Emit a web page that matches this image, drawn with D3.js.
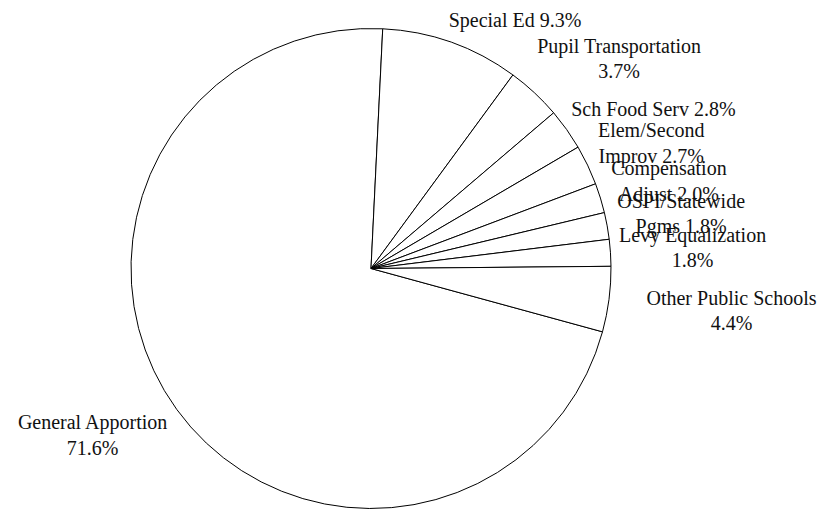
<!DOCTYPE html>
<html>
<head>
<meta charset="utf-8">
<script src="https://cdn.jsdelivr.net/npm/d3@7/dist/d3.min.js"></script>
<style>
  html, body { margin: 0; padding: 0; background: #fff; }
  svg { display: block; }
</style>
</head>
<body>
<svg id="chart" width="834" height="509"></svg>
<script>
// ---- data ----
const categories = ["General Apportion", "Special Ed", "Pupil Transportation", "Sch Food Serv",
  "Elem/Second Improv", "Compensation Adjust", "OSPI/Statewide Pgms", "Levy Equalization", "Other Public Schools"];
const percents = [71.6, 9.3, 3.7, 2.8, 2.7, 2.0, 1.8, 1.8, 4.4];
// word index at which the label wraps to a second line (0 = single line)
const labelBreakAt = [2, 0, 2, 0, 1, 1, 1, 2, 3];
// label placement tweaks (degrees of rotation, extra radial gap in px)
const labelAngleShift = [5.0, 10.6, 6.9, 6.0, 1.4, 0.7, 0.2, 0.1, -0.7];
const labelExtraGap = [0, 0, 0, 0, 0, 0, 0, 0, 28];

// ---- layout ----
const W = 834, H = 509;
const cx = 371, cy = 268.5, R = 240;
const startDeg = 105.3;
const labelGap = 248;
const fontSize = 20, lineH = 25.5, firstBase = 19.5;

const svg = d3.select("#chart");
const g = svg.append("g").attr("transform", `translate(${cx},${cy})`);

const data = categories.map((c, i) => ({ name: c, v: percents[i], i }));
const toRad = d => d * Math.PI / 180;
const pie = d3.pie().sort(null).value(d => d.v)
  .startAngle(toRad(startDeg)).endAngle(toRad(startDeg) + 2 * Math.PI);
const arc = d3.arc().innerRadius(0).outerRadius(R);
const arcs = pie(data);

g.selectAll("path.slice").data(arcs).enter().append("path")
  .attr("class", "slice")
  .attr("d", arc)
  .attr("fill", "#fff")
  .attr("stroke", "#000")
  .attr("stroke-width", 1);

const fmt = d3.format(".1f");

const lg = svg.append("g").attr("font-family", "'Liberation Serif', 'Times New Roman', serif")
  .attr("font-size", fontSize).attr("fill", "#111");

arcs.forEach(a => {
  const i = a.data.i;
  const words = (a.data.name + " " + fmt(a.data.v) + "%").split(" ");
  const k = labelBreakAt[i];
  const lines = k > 0 ? [words.slice(0, k).join(" "), words.slice(k).join(" ")] : [words.join(" ")];
  const t = lg.append("text").attr("text-anchor", "middle");
  const spans = lines.map(l => t.append("tspan").text(l));
  const w = d3.max(spans, s => s.node().getComputedTextLength());
  const h = lines.length * lineH;
  const ang = (a.startAngle + a.endAngle) / 2 + toRad(labelAngleShift[i]);
  const ux = Math.sin(ang), uy = -Math.cos(ang);
  const target = labelGap + labelExtraGap[i];
  const nearest = d => {
    const xc = ux * d, yc = uy * d;
    const nx = Math.max(xc - w / 2, Math.min(0, xc + w / 2));
    const ny = Math.max(yc - h / 2, Math.min(0, yc + h / 2));
    return Math.hypot(nx, ny);
  };
  let lo = 0, hi = 900;
  for (let it = 0; it < 60; it++) {
    const mid = (lo + hi) / 2;
    if (nearest(mid) < target) lo = mid; else hi = mid;
  }
  const d = (lo + hi) / 2;
  const xc = cx + ux * d, yc = cy + uy * d;
  const top = yc - h / 2;
  spans.forEach((s, j) => s.attr("x", xc).attr("y", top + firstBase + j * lineH));
});
</script>
</body>
</html>
